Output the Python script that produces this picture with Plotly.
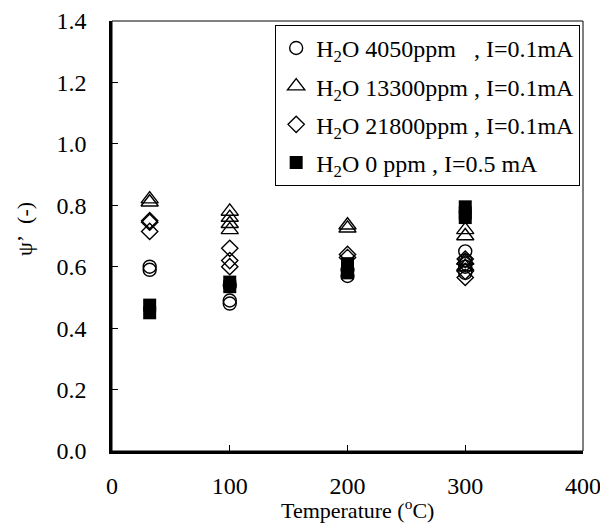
import plotly.graph_objects as go

# ---- data ----
circle_x = [32, 32, 100, 100, 100, 200, 200, 300, 300, 300, 300]
circle_y = [0.60, 0.59, 0.49, 0.48, 0.54, 0.57, 0.59, 0.65, 0.62, 0.60, 0.58]

tri_x = [32, 32, 100, 100, 100, 100, 200, 200, 300, 300, 300, 300]
tri_y = [0.82, 0.81, 0.78, 0.76, 0.74, 0.72, 0.735, 0.725, 0.72, 0.70, 0.62, 0.60]

dia_x = [32, 32, 32, 100, 100, 100, 200, 200, 300, 300, 300, 300]
dia_y = [0.75, 0.745, 0.715, 0.66, 0.62, 0.60, 0.64, 0.63, 0.625, 0.61, 0.585, 0.565]

sq_x = [32, 32, 100, 100, 200, 200, 200, 300, 300, 300]
sq_y = [0.475, 0.45, 0.55, 0.535, 0.61, 0.595, 0.58, 0.795, 0.775, 0.76]

names = [
    "H<sub>2</sub>O 4050ppm\u00a0\u00a0\u00a0, I=0.1mA",
    "H<sub>2</sub>O 13300ppm , I=0.1mA",
    "H<sub>2</sub>O 21800ppm , I=0.1mA",
    "H<sub>2</sub>O 0 ppm , I=0.5 mA",
]

x_title = "Temperature (<sup>o</sup>C)"
y_title = "\u03c8\u2019\u00a0\u00a0(-)"

x_ticks = [0, 100, 200, 300, 400]
y_ticks = [0.0, 0.2, 0.4, 0.6, 0.8, 1.0, 1.2, 1.4]

FONT = "Liberation Serif"

fig = go.Figure()
fig.add_trace(go.Scatter(x=circle_x, y=circle_y, mode="markers", name=names[0], legendgroup="a",
                         marker=dict(symbol="circle-open", size=13, color="black", line=dict(width=1.4, color="black"))))
fig.add_trace(go.Scatter(x=tri_x, y=tri_y, mode="markers", name=names[1], legendgroup="b",
                         marker=dict(symbol="triangle-up-open", size=15, color="black", line=dict(width=1.4, color="black"))))
fig.add_trace(go.Scatter(x=dia_x, y=dia_y, mode="markers", name=names[2], legendgroup="c",
                         marker=dict(symbol="diamond-open", size=12.5, color="black", line=dict(width=1.4, color="black"))))
fig.add_trace(go.Scatter(x=sq_x, y=sq_y, mode="markers", name=names[3], legendgroup="d",
                         marker=dict(symbol="square", size=13, color="black", line=dict(width=0, color="black"))))

fig.update_layout(
    width=600, height=523,
    margin=dict(l=112, r=17, t=21, b=72),
    paper_bgcolor="white", plot_bgcolor="white",
    font=dict(family=FONT, size=22, color="black"),
    showlegend=True,
    legend=dict(x=0.994, y=0.991, xanchor="right", yanchor="top",
                bordercolor="black", borderwidth=1, bgcolor="white",
                font=dict(family=FONT, size=24, color="black"),
                tracegroupgap=4, itemwidth=30),
    xaxis=dict(range=x_ticks[0:1] + x_ticks[-1:], tickvals=x_ticks, ticks="inside", ticklen=6,
               tickwidth=1, tickcolor="black", showline=True, linewidth=2.5, linecolor="black",
               showgrid=False, zeroline=False, ticklabelstandoff=11, ticklabeloverflow="allow",
               automargin=False, tickfont=dict(family=FONT, size=24)),
    yaxis=dict(range=[0, 1.4], tickvals=y_ticks, tickformat=".1f", ticks="inside", ticklen=6,
               tickwidth=1, tickcolor="black", showline=True, linewidth=2.5, linecolor="black",
               showgrid=False, zeroline=False, ticklabelstandoff=18, automargin=False,
               tickfont=dict(family=FONT, size=24)),
    annotations=[
        dict(text=x_title, xref="paper", yref="paper", x=0.522, y=-0.136,
             xanchor="center", yanchor="middle", showarrow=False,
             font=dict(family=FONT, size=22, color="black")),
        dict(text=y_title, xref="paper", yref="paper", x=-0.187, y=0.516,
             xanchor="center", yanchor="middle", showarrow=False, textangle=-90,
             font=dict(family=FONT, size=22, color="black")),
    ],
    shapes=[dict(type="rect", xref="paper", yref="paper", x0=0, y0=0, x1=1, y1=1,
                 line=dict(color="black", width=1), layer="above")],
)

fig.write_html("out.html")
